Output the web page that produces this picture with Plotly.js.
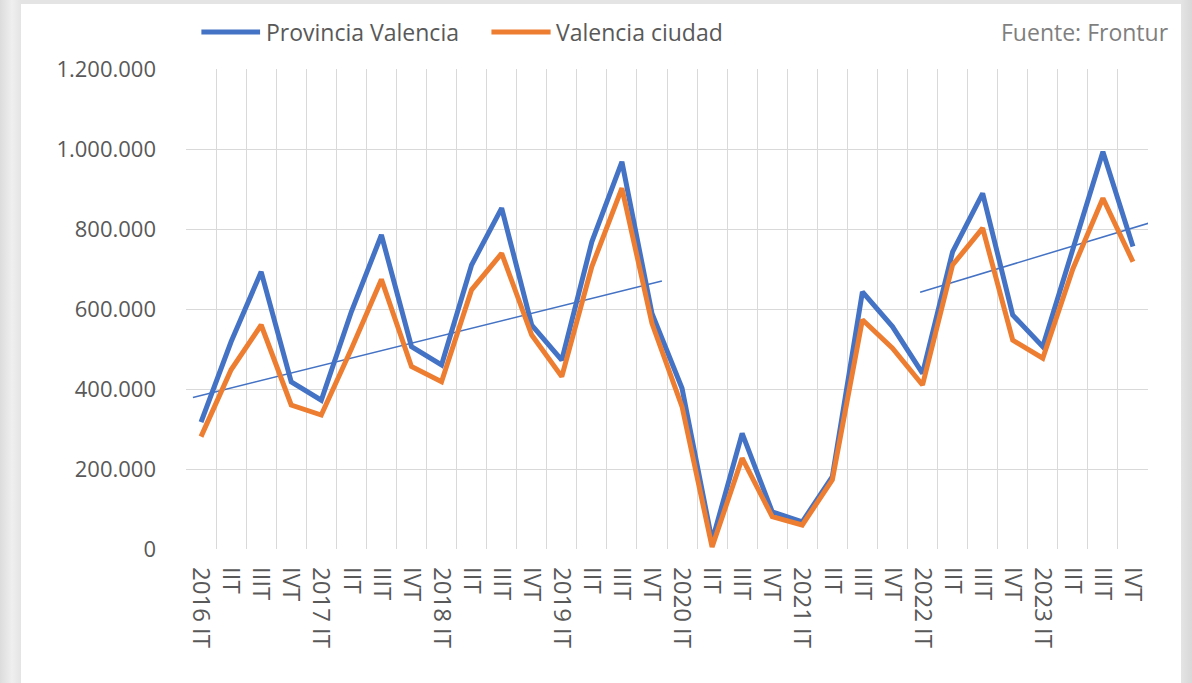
<!DOCTYPE html>
<html>
<head>
<meta charset="utf-8">
<script src="https://cdn.plot.ly/plotly-3.0.1.min.js"></script>
<style>
  html, body { margin: 0; padding: 0; width: 1192px; height: 683px; overflow: hidden; }
  body { background: linear-gradient(90deg, #dcdcdc 0px, #efefef 12px, #e4e4e4 21px, #e4e4e4 1181px, #d8d8d8 1192px); }
  #chart { position: absolute; left: 21px; top: 4px; width: 1160px; height: 679px; background: #ffffff; }
</style>
</head>
<body>
<div id="chart"></div>
<script>
// ---- data ----
const categories = [
  "2016 IT","IIT","IIIT","IVT",
  "2017 IT","IIT","IIIT","IVT",
  "2018 IT","IIT","IIIT","IVT",
  "2019 IT","IIT","IIIT","IVT",
  "2020 IT","IIT","IIIT","IVT",
  "2021 IT","IIT","IIIT","IVT",
  "2022 IT","IIT","IIIT","IVT",
  "2023 IT","IIT","IIIT","IVT"
];
const seriesNames = ["Provincia Valencia", "Valencia ciudad"];
const provincia = [317000, 518000, 693000, 418000, 372000, 593000, 785000, 506000,
                   460000, 710000, 852000, 560000, 472000, 768000, 968000, 589000,
                   402000, 20000, 289000, 93000, 68000, 181000, 643000, 556000,
                   439000, 743000, 889000, 585000, 506000, 750000, 993000, 756000];
const ciudad = [281000, 448000, 560000, 360000, 335000, 500000, 674000, 456000,
                418000, 648000, 739000, 535000, 431000, 706000, 902000, 564000,
                356000, 5000, 227000, 81000, 60000, 173000, 573000, 502000,
                410000, 710000, 802000, 522000, 477000, 700000, 877000, 718000];
// hand-drawn trend lines (positions in category units, values)
const trend1X = [-0.27, 15.33];
const trend1Y = [379000, 670000];
const trend2X = [23.92, 31.67];
const trend2Y = [642000, 818000];
const yTicks = [0, 200000, 400000, 600000, 800000, 1000000, 1200000];
const sourceText = "Fuente: Frontur";

// ---- chart ----
const xIdx = categories.map((_, i) => i);
const blue = "#4472C4", orange = "#ED7D31";
const FONT = "Open Sans, sans-serif";

const traces = [
  {x: trend1X, y: trend1Y, mode: "lines", line: {color: blue, width: 1.5}, showlegend: false, hoverinfo: "skip"},
  {x: trend2X, y: trend2Y, mode: "lines", line: {color: blue, width: 1.5}, showlegend: false, hoverinfo: "skip"},
  {x: xIdx, y: provincia, name: seriesNames[0], mode: "lines", line: {color: blue, width: 5}, showlegend: false},
  {x: xIdx, y: ciudad, name: seriesNames[1], mode: "lines", line: {color: orange, width: 5}, showlegend: false}
];

const LY = 1.0771;
const layout = {
  width: 1160, height: 679,
  margin: {l: 165, r: 33, t: 65, b: 134, pad: 0},
  paper_bgcolor: "#ffffff",
  plot_bgcolor: "#ffffff",
  separators: ",.",
  font: {family: FONT, color: "#595959", size: 22},
  showlegend: false,
  xaxis: {
    range: [-0.5, 31.5],
    tickmode: "array",
    tickvals: xIdx,
    ticktext: categories,
    tickangle: 90,
    showgrid: false,
    zeroline: false,
    showline: false,
    ticks: "",
    ticklabelstandoff: 17,
    tickfont: {family: FONT, size: 24, color: "#595959"},
    minor: {tickmode: "linear", tick0: -0.5, dtick: 1, showgrid: true, gridcolor: "#d9d9d9", gridwidth: 1, ticks: ""},
    fixedrange: true
  },
  yaxis: {
    range: [0, 1200000],
    tickmode: "array",
    tickvals: yTicks,
    tickformat: ",d",
    showgrid: true,
    gridcolor: "#d9d9d9",
    gridwidth: 1,
    zeroline: false,
    showline: false,
    ticks: "",
    ticklabelstandoff: 29,
    tickfont: {family: FONT, size: 22, color: "#595959"},
    fixedrange: true
  },
  shapes: [
    {type: "line", xref: "paper", yref: "paper", x0: 0.0160, x1: 0.0770, y0: LY, y1: LY, line: {color: blue, width: 5}},
    {type: "line", xref: "paper", yref: "paper", x0: 0.3175, x1: 0.3790, y0: LY, y1: LY, line: {color: orange, width: 5}}
  ],
  annotations: [
    {xref: "paper", yref: "paper", x: 0.0810, y: LY, xanchor: "left", yanchor: "middle", showarrow: false,
     text: seriesNames[0], font: {family: FONT, size: 23, color: "#595959"}},
    {xref: "paper", yref: "paper", x: 0.3825, y: LY, xanchor: "left", yanchor: "middle", showarrow: false,
     text: seriesNames[1], font: {family: FONT, size: 23, color: "#595959"}},
    {xref: "paper", yref: "paper", x: 1.0235, y: LY, xanchor: "right", yanchor: "middle", showarrow: false,
     text: sourceText, font: {family: FONT, size: 23, color: "#7f7f7f"}}
  ]
};

Plotly.newPlot("chart", traces, layout, {staticPlot: true, displayModeBar: false});
</script>
</body>
</html>
